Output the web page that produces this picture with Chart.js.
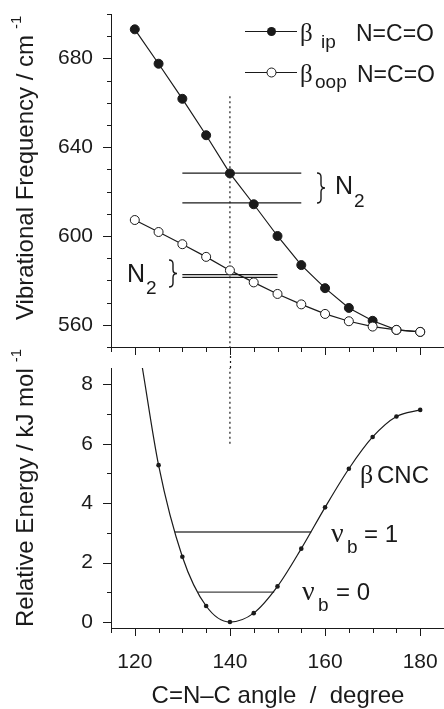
<!DOCTYPE html>
<html>
<head>
<meta charset="utf-8">
<script src="https://cdn.jsdelivr.net/npm/chart.js@4.4.1/dist/chart.umd.min.js"></script>
<style>
  html, body { margin: 0; padding: 0; background: #fff; }
  #wrap { position: relative; width: 444px; height: 709px; overflow: hidden; }
  #freq { position: absolute; left: 0; top: 0; }
  #energy { position: absolute; left: 0; top: 348px; }
</style>
</head>
<body>
<div id="wrap">
  <canvas id="freq" width="444" height="360"></canvas>
  <canvas id="energy" width="444" height="361"></canvas>
</div>
<script>
// bending frequencies vs C=N-C angle
const angles = [120, 125, 130, 135, 140, 145, 150, 155, 160, 165, 170, 175, 180];
const betaIp = [693.1, 677.6, 661.8, 645.4, 628.2, 614.3, 600.0, 586.9, 576.5, 567.6, 561.8, 557.7, 556.8];
const betaOop = [607.2, 601.8, 596.3, 590.6, 584.5, 579.1, 573.9, 569.2, 564.9, 561.6, 559.2, 557.7, 556.8];

// N2 matrix values
const n2IpLevels = [628.3, 614.9];
const n2IpSpan = [130, 155];
const n2OopLevels = [582.6, 581.4];
const n2OopSpan = [130, 150];

// potential energy along the CNC bend
const energyAngles = [125, 130, 135, 140, 145, 150, 155, 160, 165, 170, 175, 180];
const energy = [5.28, 2.2, 0.54, 0, 0.3, 1.2, 2.47, 3.86, 5.16, 6.23, 6.92, 7.14];
const curveStart = { x: 121.6, y: 8.55 };   // fitted curve leaves the frame here
const levelEnergy = [1.01, 3.03];            // v_b = 0, 1
const levelSpans = [[133.3, 149.3], [128.4, 157.1]];

// equilibrium angle marker
const eqAngle = 140;
const eqTopFreq = 663;
const eqBottomEnergy = 6;

const INK = '#1a1a1a';
const SANS = '"Liberation Sans", Arial, sans-serif';
const SERIF = '"Liberation Serif", "Times New Roman", serif';

Chart.defaults.font.family = SANS;
Chart.defaults.color = INK;

function pts(xs, ys) {
  return xs.map((x, i) => ({ x: x, y: ys[i] }));
}

function hline(y, span, color, width) {
  return {
    data: [{ x: span[0], y: y }, { x: span[1], y: y }],
    showLine: true, borderColor: color, borderWidth: width, pointRadius: 0
  };
}

function seg(ctx, x1, y1, x2, y2) {
  ctx.beginPath();
  ctx.moveTo(x1, y1);
  ctx.lineTo(x2, y2);
  ctx.stroke();
}

// tick marks, long on majors and short on minors
function xTicks(ctx, scale, from, to, step, majorStep) {
  for (let v = from; v <= to + 1e-6; v += step) {
    const px = Math.round(scale.getPixelForValue(v)) + 0.5;
    const len = Math.abs(v % majorStep) < 1e-6 ? 8 : 5;
    seg(ctx, px, scale.top, px, scale.top + len);
  }
}

function yTicks(ctx, scale, from, to, step, isMajor) {
  for (let v = from; v <= to + 1e-6; v += step) {
    const py = Math.round(scale.getPixelForValue(v)) + 0.5;
    const len = isMajor(v) ? 8 : 4;
    seg(ctx, scale.right, py, scale.right - len, py);
  }
}

function rotatedTitle(ctx, x, y, main, sup) {
  ctx.save();
  ctx.translate(x, y);
  ctx.rotate(-Math.PI / 2);
  ctx.textAlign = 'left';
  ctx.textBaseline = 'alphabetic';
  ctx.font = '24px ' + SANS;
  ctx.fillText(main, 0, 0);
  const w = ctx.measureText(main).width;
  ctx.font = '15px ' + SANS;
  ctx.fillText(sup, w + 6, -12);
  ctx.restore();
}

function brace(ctx, x, y0, y1, w) {
  const ym = (y0 + y1) / 2, r = w / 2;
  ctx.beginPath();
  ctx.moveTo(x, y0);
  ctx.quadraticCurveTo(x + r, y0, x + r, y0 + r);
  ctx.lineTo(x + r, ym - r);
  ctx.quadraticCurveTo(x + r, ym, x + w, ym);
  ctx.quadraticCurveTo(x + r, ym, x + r, ym + r);
  ctx.lineTo(x + r, y1 - r);
  ctx.quadraticCurveTo(x + r, y1, x, y1);
  ctx.stroke();
}

function text(ctx, str, x, y, font) {
  ctx.font = font;
  ctx.fillText(str, x, y);
}

const freqDecor = {
  id: 'freqDecor',
  afterDraw(chart) {
    const { ctx } = chart;
    const { x, y } = chart.scales;
    ctx.save();
    ctx.strokeStyle = INK;
    ctx.fillStyle = INK;
    ctx.lineWidth = 1;
    xTicks(ctx, x, 115, 185, 5, 20);
    yTicks(ctx, y, 550, 700, 10, v => (v - 560) % 40 === 0);

    rotatedTitle(ctx, 33, 320, 'Vibrational Frequency / cm', '-1');

    // legend
    ctx.lineWidth = 1.2;
    seg(ctx, 245, 31.5, 297, 31.5);
    seg(ctx, 245, 72.5, 297, 72.5);
    ctx.beginPath();
    ctx.arc(271.5, 31.5, 4.5, 0, Math.PI * 2);
    ctx.fill();
    ctx.beginPath();
    ctx.arc(271.5, 72.5, 4.5, 0, Math.PI * 2);
    ctx.fillStyle = '#fff';
    ctx.fill();
    ctx.lineWidth = 1;
    ctx.stroke();
    ctx.fillStyle = INK;
    ctx.textBaseline = 'alphabetic';
    ctx.textAlign = 'left';
    text(ctx, 'β', 300, 41, '25px ' + SERIF);
    text(ctx, 'ip', 321, 48, '19px ' + SANS);
    text(ctx, 'N=C=O', 356, 41, '23px ' + SANS);
    text(ctx, 'β', 300, 82, '25px ' + SERIF);
    text(ctx, 'oop', 315, 88, '19px ' + SANS);
    text(ctx, 'N=C=O', 357, 82, '23px ' + SANS);

    // N2 labels
    ctx.lineWidth = 1.4;
    brace(ctx, 317, 173, 203, 8);
    text(ctx, 'N', 335, 194, '25px ' + SANS);
    text(ctx, '2', 354, 207, '19px ' + SANS);
    brace(ctx, 169, 260, 287, 8);
    text(ctx, 'N', 127, 282, '25px ' + SANS);
    text(ctx, '2', 146, 294, '19px ' + SANS);
    ctx.restore();
  }
};

const energyDecor = {
  id: 'energyDecor',
  afterDraw(chart) {
    const { ctx, chartArea } = chart;
    const { x, y } = chart.scales;
    ctx.save();
    ctx.strokeStyle = INK;
    ctx.fillStyle = INK;
    ctx.lineWidth = 1;
    xTicks(ctx, x, 115, 185, 5, 20);
    yTicks(ctx, y, 0, 8, 1, v => v % 2 === 0);

    // marker continues up through the gap between panels
    const ex = Math.round(x.getPixelForValue(eqAngle)) + 0.5;
    ctx.lineWidth = 1.2;
    ctx.setLineDash([2, 3]);
    seg(ctx, ex, 8, ex, chartArea.top);
    ctx.setLineDash([]);
    ctx.lineWidth = 1;

    rotatedTitle(ctx, 33, 279, 'Relative Energy / kJ mol', '-1');

    ctx.textAlign = 'center';
    ctx.textBaseline = 'alphabetic';
    text(ctx, 'C=N\u2013C angle  /  degree', 278, 355, '24px ' + SANS);

    ctx.textAlign = 'left';
    text(ctx, 'β', 360, 135, '26px ' + SERIF);
    text(ctx, 'CNC', 377, 135, '24px ' + SANS);
    text(ctx, 'ν', 331, 194, '28px ' + SERIF);
    text(ctx, 'b', 347, 205, '19px ' + SANS);
    text(ctx, '= 1', 364, 194, '24px ' + SANS);
    text(ctx, 'ν', 302, 252, '28px ' + SERIF);
    text(ctx, 'b', 318, 263, '19px ' + SANS);
    text(ctx, '= 0', 336, 252, '24px ' + SANS);
    ctx.restore();
  }
};

// scale paddings from edge labels would shrink the plot area; the frame is fixed instead
function noPadding(s) {
  s.paddingTop = 0;
  s.paddingBottom = 0;
  s.paddingLeft = 0;
  s.paddingRight = 0;
}

const xAxisBase = {
  type: 'linear', min: 115, max: 185,
  grid: { display: false, drawTicks: false },
  border: { display: true, color: INK, width: 1 }
};

const yAxisBase = {
  type: 'linear',
  grid: { display: false, drawTicks: false },
  border: { display: true, color: INK, width: 1 },
  afterFit: s => { s.width = 111; noPadding(s); }
};

const commonOpts = {
  responsive: false,
  animation: false,
  events: [],
  plugins: { legend: { display: false }, tooltip: { enabled: false } }
};

new Chart(document.getElementById('freq'), {
  type: 'scatter',
  data: {
    datasets: [
      {
        label: 'β oop N=C=O', data: pts(angles, betaOop), showLine: true,
        borderColor: INK, borderWidth: 1.2, pointRadius: 4.5,
        pointBackgroundColor: '#fff', pointBorderColor: INK, pointBorderWidth: 1
      },
      {
        label: 'β ip N=C=O', data: pts(angles, betaIp), showLine: true,
        borderColor: INK, borderWidth: 1.2, pointRadius: 4.5,
        pointBackgroundColor: INK, pointBorderColor: INK, pointBorderWidth: 1
      },
      hline(n2IpLevels[0], n2IpSpan, INK, 1.2),
      hline(n2IpLevels[1], n2IpSpan, INK, 1.2),
      hline(n2OopLevels[0], n2OopSpan, INK, 1.2),
      hline(n2OopLevels[1], n2OopSpan, INK, 1.2),
      {
        data: [{ x: eqAngle, y: eqTopFreq }, { x: eqAngle, y: 550 }],
        showLine: true, borderColor: INK, borderWidth: 1.2, borderDash: [2, 3], pointRadius: 0
      }
    ]
  },
  options: Object.assign({}, commonOpts, {
    layout: { autoPadding: false, padding: { top: 14, right: 0, bottom: 0, left: 0 } },
    scales: {
      x: Object.assign({}, xAxisBase, {
        ticks: { display: false },
        afterFit: s => { s.height = 13; noPadding(s); }
      }),
      y: Object.assign({}, yAxisBase, {
        min: 550, max: 700,
        ticks: { stepSize: 40, includeBounds: false, padding: 18, font: { size: 21 }, color: INK }
      })
    }
  }),
  plugins: [freqDecor]
});

new Chart(document.getElementById('energy'), {
  type: 'scatter',
  data: {
    datasets: [
      {
        label: 'β CNC', data: pts(energyAngles, energy),
        pointRadius: 2.3, pointBackgroundColor: INK, pointBorderColor: INK, pointBorderWidth: 0
      },
      {
        data: [curveStart].concat(pts(energyAngles, energy)), showLine: true,
        borderColor: INK, borderWidth: 1.2, pointRadius: 0,
        cubicInterpolationMode: 'monotone', tension: 0.4
      },
      hline(levelEnergy[0], levelSpans[0], '#444', 1.3),
      hline(levelEnergy[1], levelSpans[1], '#444', 1.3),
      {
        data: [{ x: eqAngle, y: eqBottomEnergy }, { x: eqAngle, y: 8.55 }],
        showLine: true, borderColor: INK, borderWidth: 1.2, borderDash: [2, 3], pointRadius: 0
      }
    ]
  },
  options: Object.assign({}, commonOpts, {
    layout: { autoPadding: false, padding: { top: 20, right: 0, bottom: 0, left: 0 } },
    scales: {
      x: Object.assign({}, xAxisBase, {
        ticks: { stepSize: 20, includeBounds: false, padding: 22, font: { size: 21 }, color: INK, maxRotation: 0 },
        afterFit: s => { s.height = 81; noPadding(s); }
      }),
      y: Object.assign({}, yAxisBase, {
        min: -0.2, max: 8.55,
        ticks: { stepSize: 2, includeBounds: false, padding: 18, font: { size: 21 }, color: INK }
      })
    }
  }),
  plugins: [energyDecor]
});
</script>
</body>
</html>
